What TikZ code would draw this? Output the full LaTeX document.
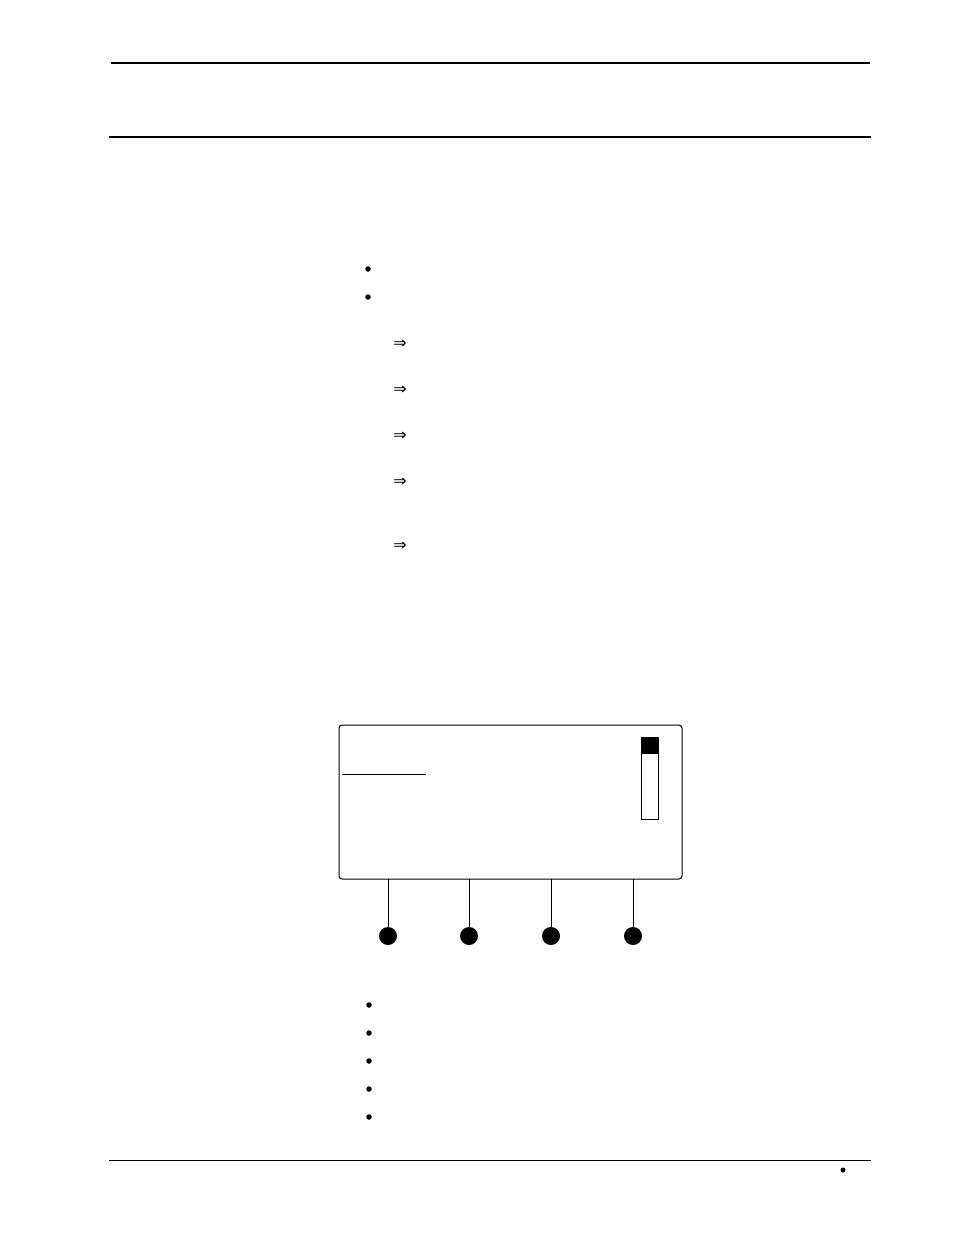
\documentclass[tikz,border=0pt]{standalone}
\usepackage{fontspec}
\newfontfamily\symfont{DejaVu Sans}
\begin{document}
\begin{tikzpicture}[x=1pt,y=-1pt,
  rule/.style={line width=2pt},
  thinrule/.style={line width=1pt},
  dot/.style={circle,fill=black,inner sep=0pt,minimum size=5.5pt},
  knob/.style={circle,fill=black,inner sep=0pt,minimum size=18pt},
  arrowsym/.style={inner sep=0pt,font=\symfont\fontsize{16}{16}\selectfont}]
\useasboundingbox (0,0) rectangle (954,1235);
\fill[white] (0,0) rectangle (954,1235);
% header rules
\draw[rule] (111,63) -- (870,63);
\draw[rule] (109,137) -- (871,137);
% bullets
\node[dot] (b1) at (368,269) {};
\node[dot] (b2) at (368,297) {};
\foreach \y/\n in {343/a1,389/a2,435/a3,481/a4,545/a5}
  \node[arrowsym] (\n) at (400,\y+1) {⇒};
% display
\draw[line width=1pt,rounded corners=3pt] (339,725) rectangle (682,879);
\draw[line width=1pt] (342,774.5) -- (426,774.5);
\draw[line width=1pt] (641.5,737.5) rectangle (658.5,819);
\fill (641.5,737.5) rectangle (658.5,754);
\foreach \x/\n in {388/k1,469/k2,551/k3,633/k4}{
  \coordinate (\n top) at (\x,879);
  \node[knob] (\n) at (\x,936) {};
  \draw[line width=1pt] (\n top) -- (\n);
}
\foreach \y/\n in {1005/c1,1033/c2,1061/c3,1089/c4,1117/c5}
  \node[dot] (\n) at (369,\y) {};
% footer
\draw[thinrule] (109,1160.5) -- (871,1160.5);
\node[dot,minimum size=5pt] (f) at (843,1170) {};
\end{tikzpicture}
\end{document}
